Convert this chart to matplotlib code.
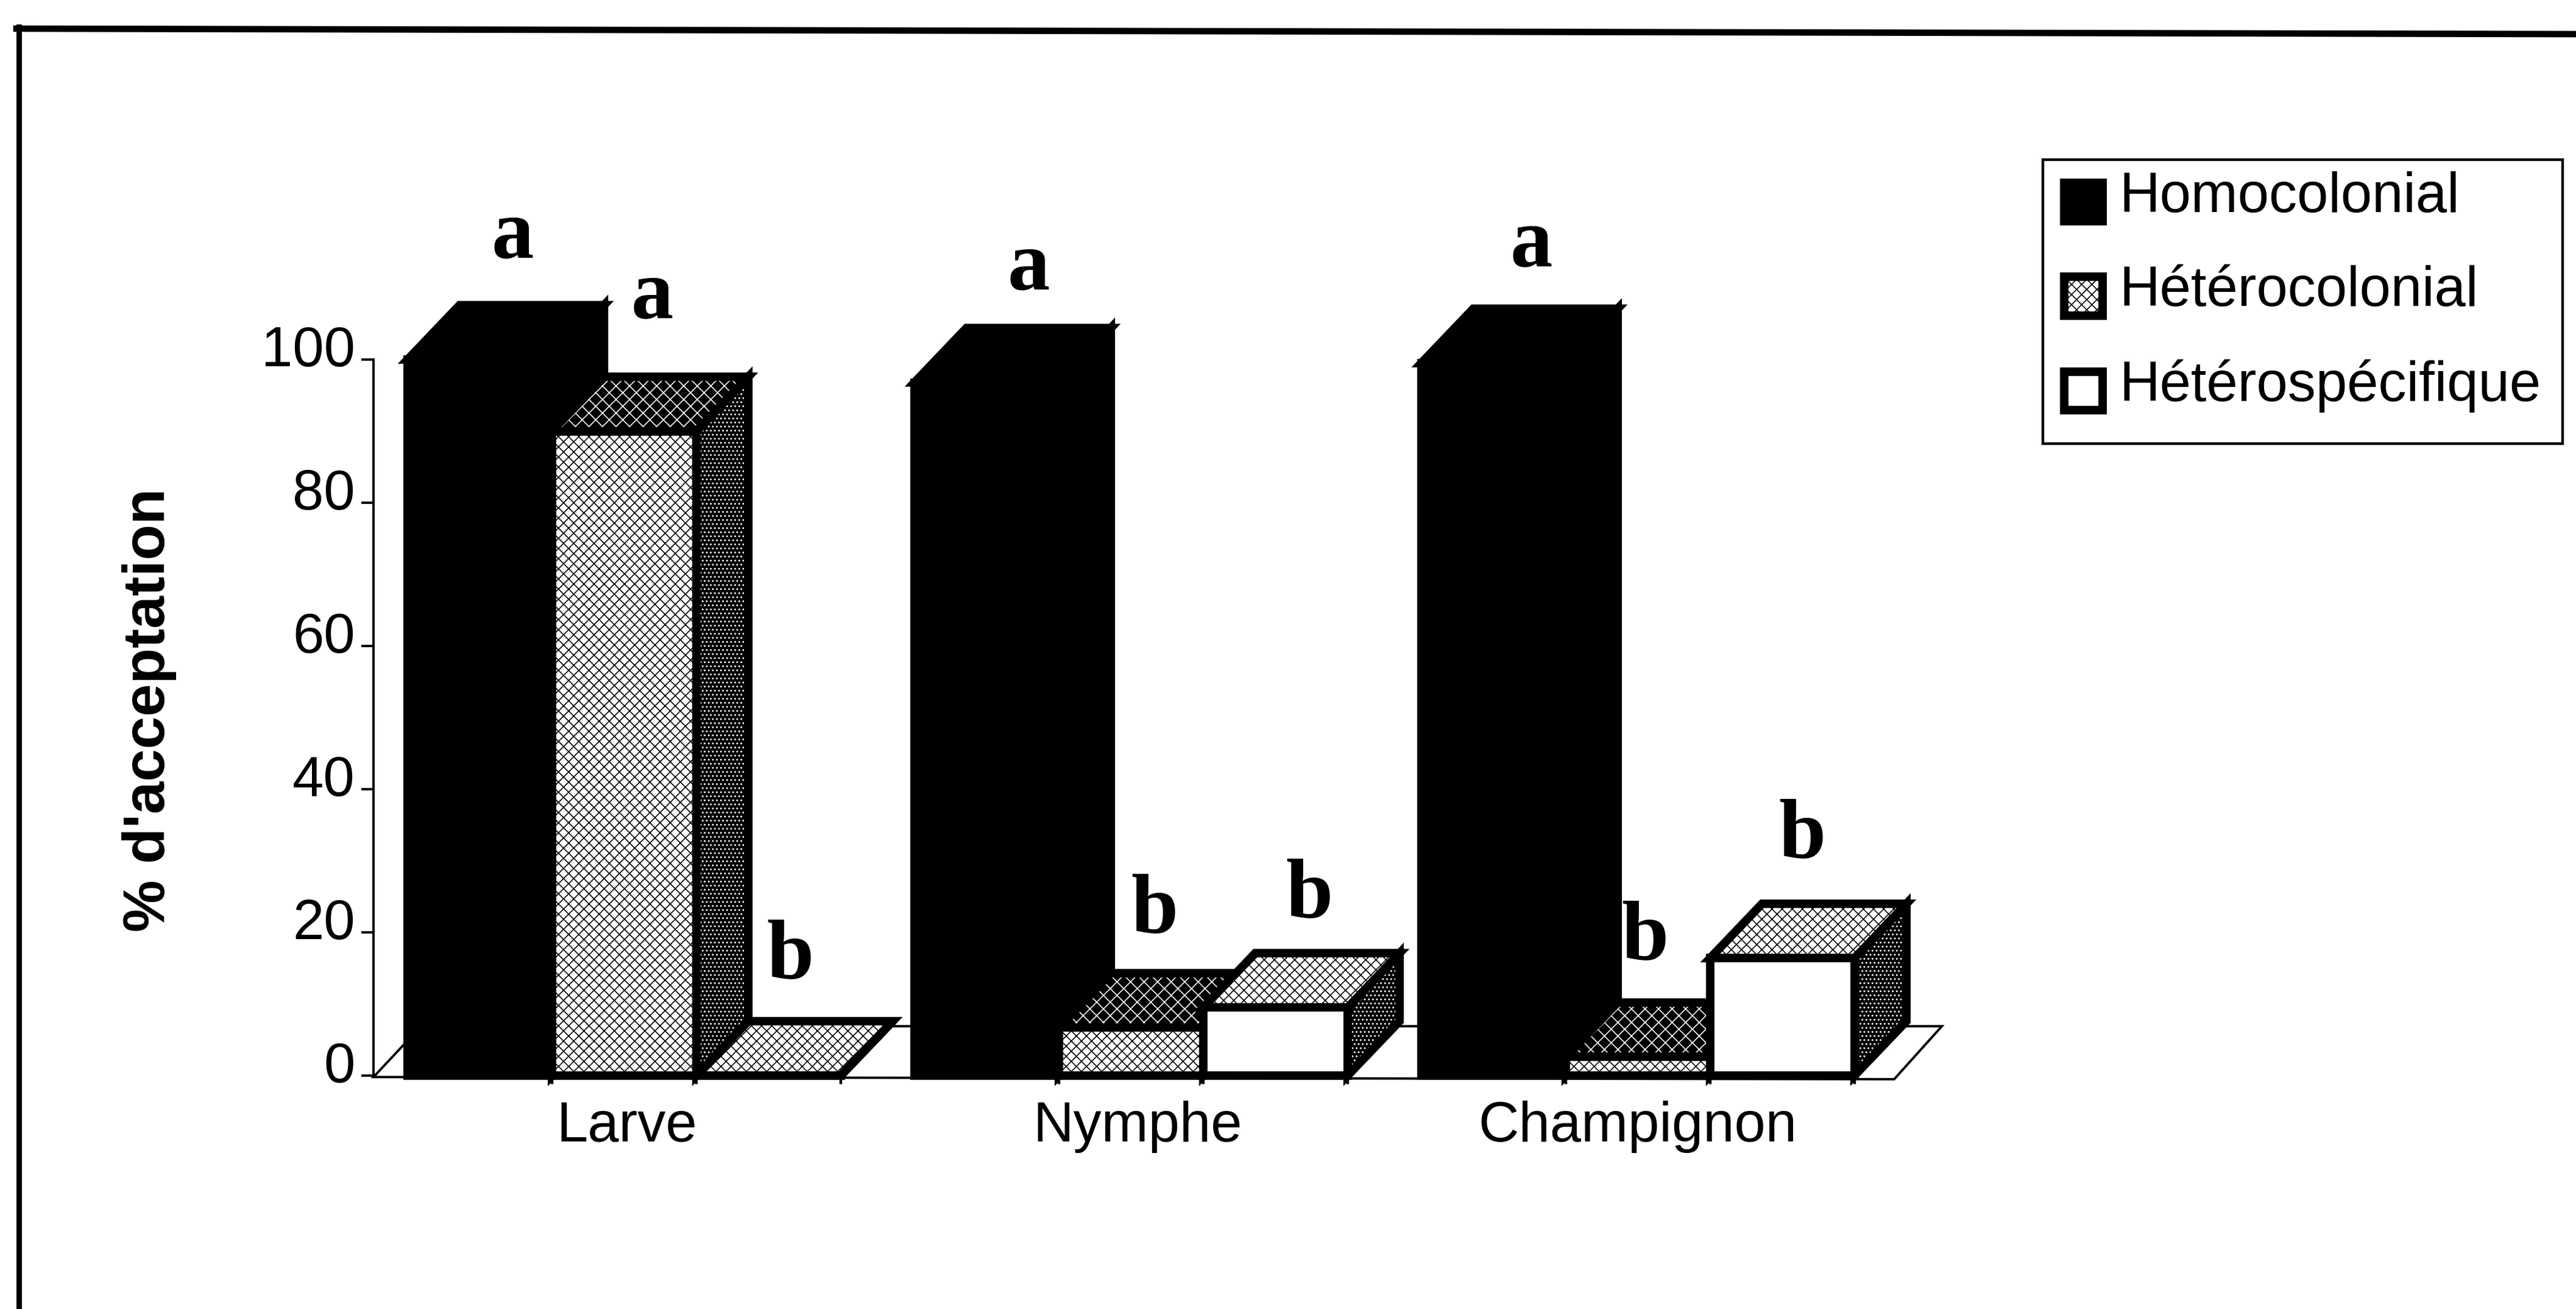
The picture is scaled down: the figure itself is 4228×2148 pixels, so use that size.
# Histogramme 3D du pourcentage d'acceptation
from matplotlib import pyplot as plt
from matplotlib.lines import Line2D
from matplotlib.patches import Patch, Polygon
from matplotlib.transforms import ScaledTranslation
import numpy as np

# Données
categories = ["Larve", "Nymphe", "Champignon"]
series = ["Homocolonial", "Hétérocolonial", "Hétérospécifique"]
homocolonial = [100, 96.8, 99.5]
heterocolonial = [90, 6.7, 2.6]
heterospecifique = [0, 9.5, 16.4]
lettres = ["a", "a", "b", "a", "b", "b", "a", "b", "b"]
y_ticks = [0, 20, 40, 60, 80, 100]

W, H = 4228, 2148
DPI = 400
TAILLE = 16.6
plt.rcParams["font.family"] = ["Liberation Sans", "DejaVu Sans"]
plt.rcParams["hatch.linewidth"] = 0.3

fig = plt.figure(figsize=(W / DPI, H / DPI), dpi=DPI, facecolor="white")

# Axes calés sur la figure: y = 0 à 1765 px, y = 100 à 590 px
largeur_px = 237
x0_px = 669
ax_g, ax_d = 613, 3109
ax = fig.add_axes([ax_g / W, 1 - 1765 / H, (ax_d - ax_g) / W, (1765 - 590) / H])
ax.set_xlim((ax_g - x0_px) / largeur_px, (ax_d - x0_px) / largeur_px)
ax.set_ylim(0, 100)
ax.patch.set_visible(False)

pas_groupe = 3.51
prof_x = 0.36
prof_y = 7.6
trait = 2.5

CLAIR = dict(facecolor="white", edgecolor="black", hatch="x" * 8, linewidth=0)
SOMBRE = dict(facecolor="black", edgecolor="white", hatch="x" * 6, linewidth=0)
POINTS = dict(facecolor="black", edgecolor="white", hatch="." * 10, linewidth=0)
NOIR = dict(facecolor="black", edgecolor="black", linewidth=0)
BLANC = dict(facecolor="white", edgecolor="white", linewidth=0)

# Style de chaque série: façade, dessus, côté
styles = [(NOIR, NOIR, NOIR), (CLAIR, SOMBRE, POINTS), (BLANC, CLAIR, POINTS)]


def face(points, style, z):
    """Une face remplie puis son contour noir épais"""
    ax.add_patch(Polygon(points, closed=True, clip_on=False, zorder=z, **style))
    ax.add_patch(
        Polygon(points, closed=True, fill=False, edgecolor="black", linewidth=trait,
                joinstyle="miter", clip_on=False, zorder=z + 0.1)
    )


def barre(x, v, style, z):
    """Barre en perspective: côté, dessus et façade"""
    s_face, s_dessus, s_cote = style
    dx, dy = prof_x, prof_y
    face([(x + 1, 0), (x + 1 + dx, dy), (x + 1 + dx, v + dy), (x + 1, v)], s_cote, z)
    face([(x, v), (x + dx, v + dy), (x + 1 + dx, v + dy), (x + 1, v)], s_dessus, z + 0.2)
    if v > 0:
        face([(x, 0), (x, v), (x + 1, v), (x + 1, 0)], s_face, z + 0.4)
    else:
        ax.plot([x, x + 1], [0, 0], color="black", lw=trait, clip_on=False, zorder=z + 0.4,
                solid_capstyle="projecting")


# Plancher du graphique
xg, xd = ax.get_xlim()
ax.add_patch(
    Polygon([(xg, -0.2), (xd, -0.5), (xd + 0.33, 6.9), (xg + 0.33, 6.9)], closed=True,
            facecolor="white", edgecolor="black", linewidth=0.7, clip_on=False, zorder=1)
)

valeurs = np.array([homocolonial, heterocolonial, heterospecifique])
departs = [i * pas_groupe for i in range(len(categories))]
for i, x_groupe in enumerate(departs):
    for j in range(len(series)):
        barre(x_groupe + j, valeurs[j, i], styles[j], 2 + i + j)

# Axes et graduations
for cote in ["top", "right", "bottom"]:
    ax.spines[cote].set_visible(False)
ax.spines["left"].set_linewidth(0.7)
ax.spines["left"].set_zorder(1.5)
ax.set_yticks(y_ticks)
ax.tick_params(axis="y", length=3.6, width=0.7, pad=1.8, labelsize=TAILLE)
for tl in ax.get_yticklabels():
    tl.set_transform(tl.get_transform() + ScaledTranslation(0, 4.1 / 72, fig.dpi_scale_trans))
decalages = [0.017, 0.045, 0.0]
ax.set_xticks([x + 1.5 + d for x, d in zip(departs, decalages)], categories)
ax.set_xticks([x + k for x in departs for k in range(1, 4)], minor=True)
ax.tick_params(axis="x", which="major", length=0, pad=7.4, labelsize=TAILLE)
ax.tick_params(axis="x", which="minor", length=2.6, width=0.8)
ax.set_ylabel("% d'acceptation", fontsize=17.3, fontweight="bold")
ax.yaxis.set_label_coords((290 - ax_g) / (ax_d - ax_g), (1765 - 1165) / (1765 - 590))

# Lettres de significativité, positions en pixels de la figure (x, ligne de base)
pos_lettres = [(841, 422), (1070, 522), (1297, 1605), (1688, 474), (1895, 1530),
               (2149, 1505), (2513, 437), (2700, 1574), (2958, 1407)]
for lettre, (px, py) in zip(lettres, pos_lettres):
    fig.text(px / W, 1 - py / H, lettre, family="Liberation Serif", fontweight="bold",
             fontsize=25, ha="center", va="baseline", zorder=20)

# Légende
poignees = [
    Patch(facecolor="black", edgecolor="black", linewidth=trait),
    Patch(facecolor="white", edgecolor="black", hatch="x" * 8, linewidth=trait),
    Patch(facecolor="white", edgecolor="black", linewidth=trait),
]
leg = fig.legend(
    poignees, series, loc="upper left", bbox_to_anchor=(3353 / W, 1 - 262 / H),
    borderaxespad=0, fontsize=TAILLE, fancybox=False, framealpha=1, edgecolor="black",
    handlelength=0.68, handleheight=0.68, handletextpad=0.3, labelspacing=0.74, borderpad=0.38,
)
leg.get_frame().set_linewidth(0.8)
# Le texte de la légende est plus haut que les carrés
for t in leg.get_texts():
    t.set_position((0, 16))

# Cadre de la figure: seulement à gauche et en haut
fig.add_artist(Line2D([31 / W, 31 / W], [0, 1 - 44 / H], color="black", lw=1.6))
fig.add_artist(Line2D([27 / W, 1], [1 - 47 / H, 1 - 56 / H], color="black", lw=1.9))

fig.savefig("out.png", dpi=DPI)
